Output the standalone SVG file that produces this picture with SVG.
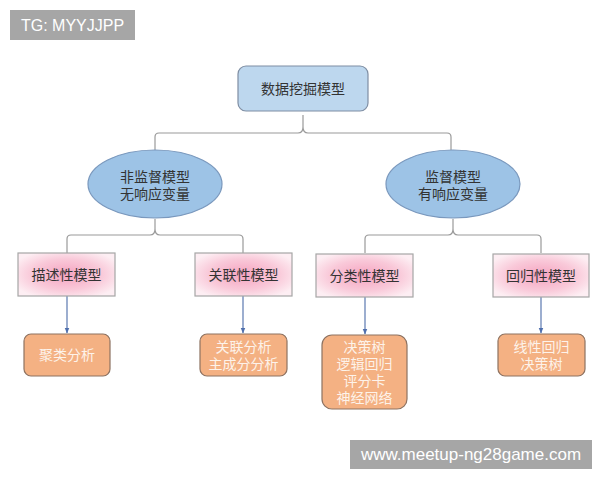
<svg xmlns="http://www.w3.org/2000/svg" width="600" height="480" viewBox="0 0 600 480">
<defs>
<radialGradient id="pink" cx="50%" cy="50%" r="60%">
<stop offset="0" stop-color="#f5a3c0"/>
<stop offset="0.6" stop-color="#f9c9d9"/>
<stop offset="1" stop-color="#fdeef3"/>
</radialGradient>
<marker id="arr" viewBox="0 0 10 10" refX="9" refY="5" markerWidth="5" markerHeight="5" orient="auto">
<path d="M0,1 L10,5 L0,9 z" fill="#4f6fad"/>
</marker>
<style>
text{font-family:"Noto Sans CJK SC","Liberation Sans",sans-serif;text-anchor:middle;}
.t{font-size:14px;fill:#333;}
.w{font-size:14px;fill:#fdf3ea;}
.root{fill:#bdd7ee;stroke:#7f8ea3;stroke-width:1.2;}
.ell{fill:#9dc3e6;stroke:#7a98bd;stroke-width:1.2;}
.pk{fill:url(#pink);stroke:#a6a6a6;stroke-width:1.2;}
.or{fill:#f4b183;stroke:#8d7261;stroke-width:1.2;}
.br{fill:none;stroke:#9a9a9a;stroke-width:1.2;}
.ar{fill:none;stroke:#5b78b0;stroke-width:1.2;marker-end:url(#arr);}
.wm{fill:#a6a6a6;}
.wt{font-family:"Liberation Sans",sans-serif;font-size:16px;fill:#fff;}
.wb{font-family:"Liberation Sans",sans-serif;font-size:17px;fill:#fff;}
</style>
</defs>
<rect width="600" height="480" fill="#fff"/>
<g id="watermark-top"><rect class="wm" x="10" y="10" width="125" height="30"/><text class="wt" x="72.5" y="31">TG: MYYJJPP</text></g>
<g id="connectors">
<path class="br" d="M155,150 V137 Q155,133 159,133 H298 Q303,133 303,127 V115 M303,127 Q303,133 308,133 H447 Q451,133 451,137 V150"/>
<path class="br" d="M67,253 V239 Q67,235 71,235 H150 Q155,235 155,229 V219 M155,229 Q155,235 160,235 H239 Q243,235 243,239 V253"/>
<path class="br" d="M365,253 V239 Q365,235 369,235 H448 Q453,235 453,229 V219 M453,229 Q453,235 458,235 H537 Q541,235 541,239 V253"/>
<line class="ar" x1="67" y1="296" x2="67" y2="333"/>
<line class="ar" x1="243" y1="296" x2="243" y2="333"/>
<line class="ar" x1="365" y1="297" x2="365" y2="334"/>
<line class="ar" x1="541" y1="297" x2="541" y2="333"/>
</g>
<g id="root"><rect class="root" x="238" y="66" width="130" height="45" rx="8"/><text class="t" x="303" y="94">数据挖掘模型</text></g>
<g id="unsupervised"><ellipse class="ell" cx="155" cy="184" rx="67" ry="34"/><text class="t" x="155" y="182">非监督模型<tspan x="155" dy="17">无响应变量</tspan></text></g>
<g id="supervised"><ellipse class="ell" cx="453" cy="184" rx="67" ry="34"/><text class="t" x="453" y="182">监督模型<tspan x="453" dy="17">有响应变量</tspan></text></g>
<g id="descriptive"><rect class="pk" x="18" y="253" width="97" height="43"/><text class="t" x="66.5" y="280">描述性模型</text></g>
<g id="association"><rect class="pk" x="195" y="253" width="97" height="43"/><text class="t" x="243.5" y="280">关联性模型</text></g>
<g id="classification"><rect class="pk" x="316" y="254" width="97" height="43"/><text class="t" x="364.5" y="281">分类性模型</text></g>
<g id="regression"><rect class="pk" x="493" y="254" width="96" height="43"/><text class="t" x="541" y="281">回归性模型</text></g>
<g id="clustering"><rect class="or" x="24" y="334" width="86" height="42" rx="7"/><text class="w" x="67" y="360">聚类分析</text></g>
<g id="assoc-analysis"><rect class="or" x="200" y="334" width="87" height="42" rx="7"/><text class="w" x="243.5" y="352">关联分析<tspan x="243.5" dy="17">主成分分析</tspan></text></g>
<g id="class-methods"><rect class="or" x="322" y="335" width="85" height="74" rx="10"/><text class="w" x="364.5" y="352">决策树<tspan x="364.5" dy="17">逻辑回归</tspan><tspan x="364.5" dy="17">评分卡</tspan><tspan x="364.5" dy="17">神经网络</tspan></text></g>
<g id="reg-methods"><rect class="or" x="498" y="334" width="87" height="42" rx="7"/><text class="w" x="541.5" y="352">线性回归<tspan x="541.5" dy="17">决策树</tspan></text></g>
<g id="watermark-bottom"><rect class="wm" x="350" y="440" width="242" height="29"/><text class="wb" x="471" y="460">www.meetup-ng28game.com</text></g>
</svg>
